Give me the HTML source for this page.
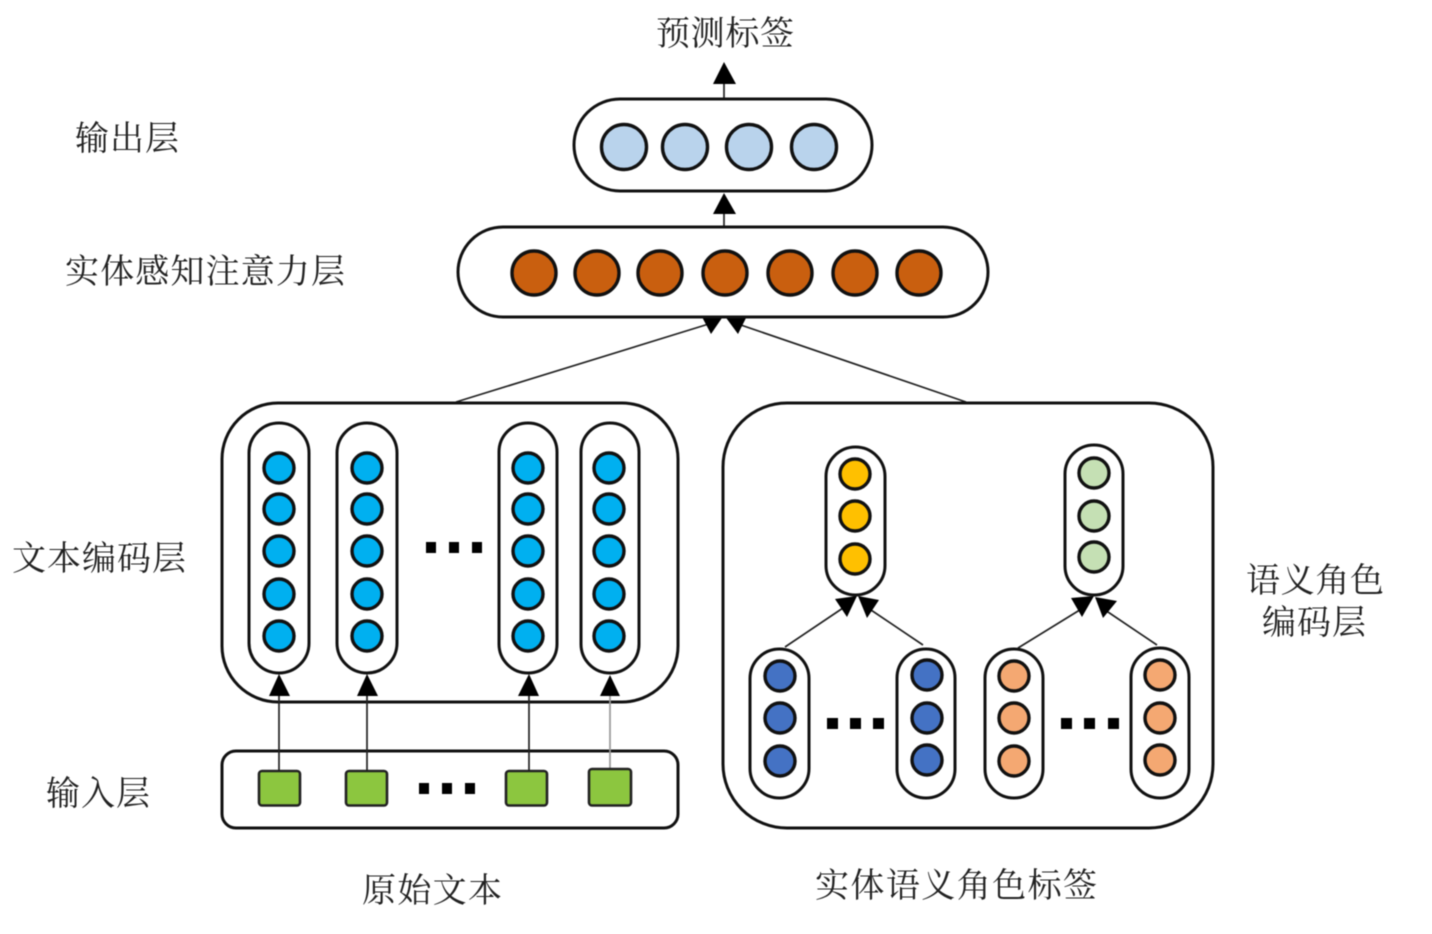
<!DOCTYPE html>
<html><head><meta charset="utf-8"><style>
html,body{margin:0;padding:0;background:#fff}
svg{display:block;filter:blur(0.6px)}
text{font-family:"Liberation Serif","Noto Serif CJK SC",serif;font-size:34px;fill:#222}
.b{fill:#fff;stroke:#111;stroke-width:3}
.c{stroke:#111;stroke-width:3.4}
.l{stroke:#222;stroke-width:1.7;fill:none}
.a{fill:#000}
.d{fill:#000}
</style></head><body>
<svg width="1432" height="934" viewBox="0 0 1432 934" xmlns="http://www.w3.org/2000/svg">
<text x="656" y="45" textLength="138">预测标签</text>
<text x="75" y="150" textLength="104">输出层</text>
<text x="65" y="283" textLength="280">实体感知注意力层</text>
<text x="12" y="570" textLength="174">文本编码层</text>
<text x="46" y="805" textLength="104">输入层</text>
<text x="362" y="902" textLength="140">原始文本</text>
<text x="815" y="897" textLength="282">实体语义角色标签</text>
<text x="1246" y="592" textLength="138">语义角色</text>
<text x="1262" y="634" textLength="104">编码层</text>

<!-- top connectors -->
<path class="l" d="M724 98V80M724 227V212M456 402L712 323M966 402L735 323"/>
<polygon class="a" points="724,62 736,84 713,84"/>
<polygon class="a" points="724,193 736,214 713,214"/>
<polygon class="a" points="724,315 701,315 711,334"/>
<polygon class="a" points="724,315 747,316 738,334"/>

<!-- output layer -->
<rect class="b" x="574" y="99" width="298" height="92" rx="46"/>
<g class="c" fill="#b9d3ec">
<circle cx="624" cy="147" r="22.5"/><circle cx="685" cy="147" r="22.5"/><circle cx="749" cy="147" r="22.5"/><circle cx="814" cy="147" r="22.5"/>
</g>
<!-- attention layer -->
<rect class="b" x="458" y="227" width="530" height="90" rx="45"/>
<g class="c" fill="#c95f0f">
<circle cx="534" cy="273" r="22"/><circle cx="597" cy="273" r="22"/><circle cx="660" cy="273" r="22"/><circle cx="725" cy="273" r="22"/><circle cx="790" cy="273" r="22"/><circle cx="855" cy="273" r="22"/><circle cx="919" cy="273" r="22"/>
</g>
<!-- text encoder -->
<rect class="b" x="222" y="403" width="456" height="299" rx="56"/>
<g>
<rect class="b" x="249" y="423" width="60" height="250" rx="30"/>
<rect class="b" x="337" y="423" width="60" height="250" rx="30"/>
<rect class="b" x="499" y="423" width="58" height="250" rx="29"/>
<rect class="b" x="581" y="423" width="58" height="250" rx="29"/>
</g>
<g class="c" fill="#00b0f0">
<circle cx="279" cy="468" r="15"/><circle cx="279" cy="509" r="15"/><circle cx="279" cy="551" r="15"/><circle cx="279" cy="594" r="15"/><circle cx="279" cy="636" r="15"/>
<circle cx="367" cy="468" r="15"/><circle cx="367" cy="509" r="15"/><circle cx="367" cy="551" r="15"/><circle cx="367" cy="594" r="15"/><circle cx="367" cy="636" r="15"/>
<circle cx="528" cy="468" r="15"/><circle cx="528" cy="509" r="15"/><circle cx="528" cy="551" r="15"/><circle cx="528" cy="594" r="15"/><circle cx="528" cy="636" r="15"/>
<circle cx="609" cy="468" r="15"/><circle cx="609" cy="509" r="15"/><circle cx="609" cy="551" r="15"/><circle cx="609" cy="594" r="15"/><circle cx="609" cy="636" r="15"/>
</g>
<g class="d">
<rect x="426" y="542" width="10" height="11"/><rect x="449" y="542" width="10" height="11"/><rect x="472" y="542" width="10" height="11"/>
</g>
<!-- input layer -->
<rect class="b" x="222" y="751" width="456" height="77" rx="14"/>
<!-- vertical arrows over both boxes -->
<path class="l" d="M279 771V694M367 771V694M529 771V694"/>
<path d="M610 769V694" stroke="#999" stroke-width="1.7" fill="none"/>
<polygon class="a" points="279,674 290,696 269,696"/>
<polygon class="a" points="367,674 378,696 357,696"/>
<polygon class="a" points="529,674 539,696 518,696"/>
<polygon class="a" points="610,675 620,696 600,696"/>
<g stroke="#222" stroke-width="2.6" fill="#8cc63f">
<rect x="259" y="771" width="41" height="34.5" rx="3"/><rect x="346" y="771" width="41" height="34.5" rx="3"/><rect x="506" y="771" width="41" height="34.5" rx="3"/><rect x="589" y="769" width="42" height="36.5" rx="3"/>
</g>
<g class="d">
<rect x="419" y="783" width="10" height="11"/><rect x="442" y="783" width="10" height="11"/><rect x="465" y="783" width="10" height="11"/>
</g>
<!-- role encoder -->
<rect class="b" x="723" y="403" width="490" height="425" rx="64"/>
<path class="l" d="M785 647L843 608M923 645L868 608M1018 648L1083 608M1157 645L1105 610"/>
<polygon class="a" points="857,596 835,599 847,617"/>
<polygon class="a" points="858,596 879,600 867,618"/>
<polygon class="a" points="1094,596 1071,598 1082,617"/>
<polygon class="a" points="1095,597 1117,601 1103,618"/>
<rect class="b" x="826" y="447" width="59" height="148" rx="29.5"/>
<rect class="b" x="1065" y="445" width="58" height="150" rx="29"/>
<rect class="b" x="750" y="649" width="59" height="149" rx="29.5"/>
<rect class="b" x="897" y="649" width="58" height="149" rx="29"/>
<rect class="b" x="985" y="649" width="58" height="149" rx="29"/>
<rect class="b" x="1131" y="648" width="58" height="150" rx="29"/>
<g class="c" fill="#ffc000">
<circle cx="855" cy="474" r="15"/><circle cx="855" cy="516" r="15"/><circle cx="855" cy="559" r="15"/>
</g>
<g class="c" fill="#c5e0b4">
<circle cx="1094" cy="473" r="15"/><circle cx="1094" cy="516" r="15"/><circle cx="1094" cy="557" r="15"/>
</g>
<g class="c" fill="#4472c4">
<circle cx="780" cy="676" r="15"/><circle cx="780" cy="718" r="15"/><circle cx="780" cy="761" r="15"/>
<circle cx="927" cy="675" r="15"/><circle cx="927" cy="718" r="15"/><circle cx="927" cy="760" r="15"/>
</g>
<g class="c" fill="#f4a872">
<circle cx="1014" cy="676" r="15"/><circle cx="1014" cy="718" r="15"/><circle cx="1014" cy="761" r="15"/>
<circle cx="1160" cy="675" r="15"/><circle cx="1160" cy="718" r="15"/><circle cx="1160" cy="760" r="15"/>
</g>
<g class="d">
<rect x="827" y="718" width="11" height="11"/><rect x="850" y="718" width="11" height="11"/><rect x="873" y="718" width="11" height="11"/>
<rect x="1061" y="718" width="11" height="11"/><rect x="1084" y="718" width="11" height="11"/><rect x="1108" y="718" width="11" height="11"/>
</g>
</svg>
</body></html>
